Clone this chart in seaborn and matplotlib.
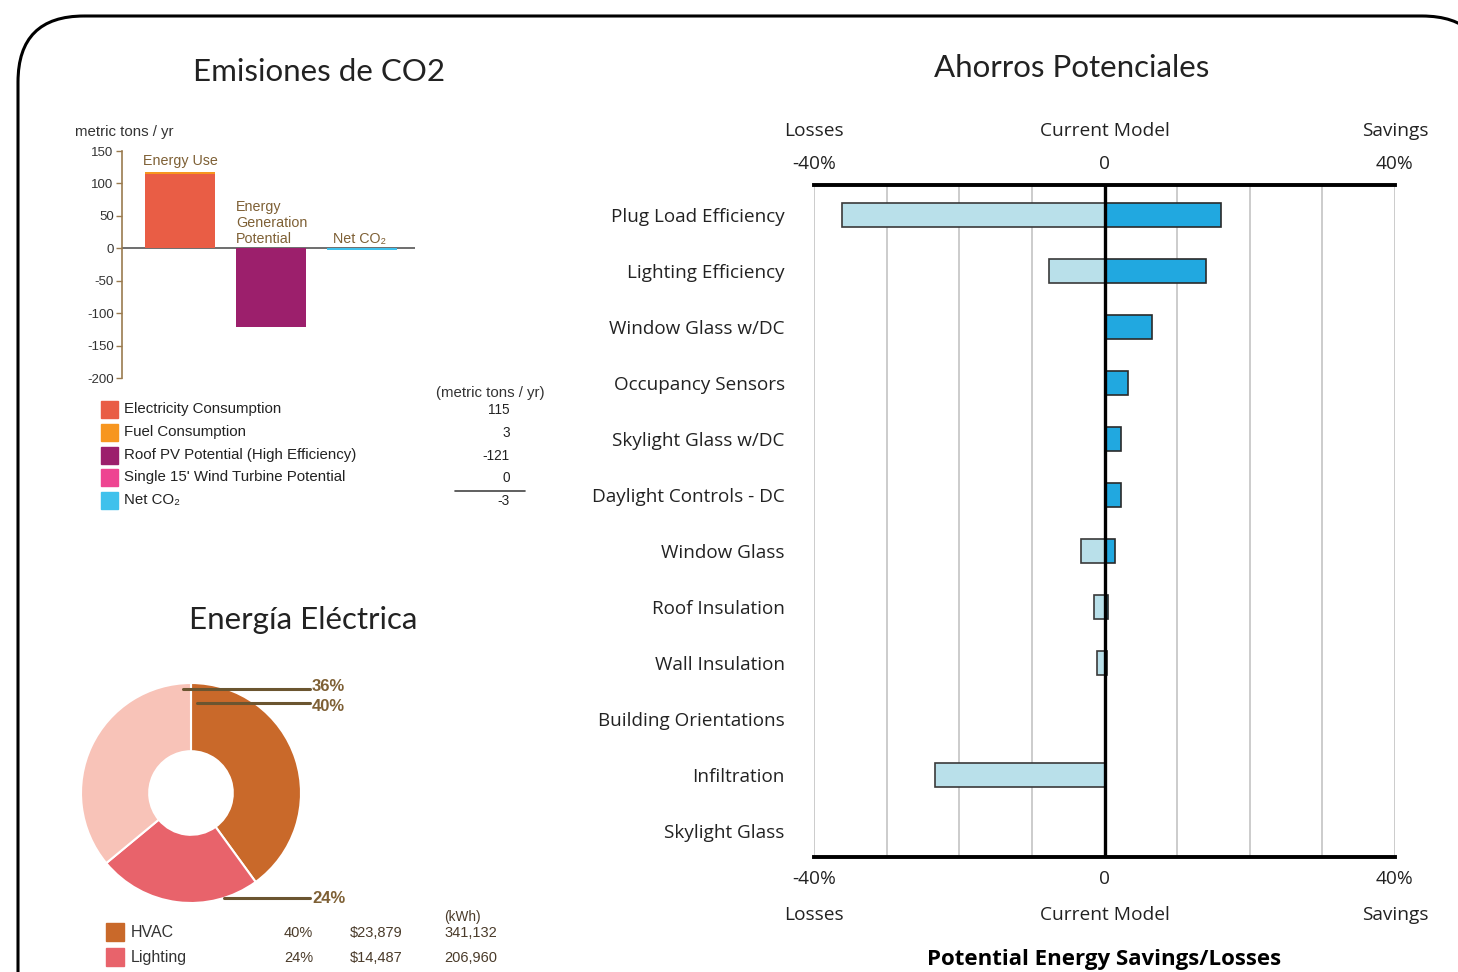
import matplotlib
matplotlib.use("Agg")
import matplotlib.pyplot as plt
from matplotlib.patches import FancyBboxPatch
import seaborn as sns

# ---- data -------------------------------------------------------------
# Ahorros Potenciales (percent of current model)
measures = [
    "Plug Load Efficiency", "Lighting Efficiency", "Window Glass w/DC",
    "Occupancy Sensors", "Skylight Glass w/DC", "Daylight Controls - DC",
    "Window Glass", "Roof Insulation", "Wall Insulation",
    "Building Orientations", "Infiltration", "Skylight Glass",
]
losses = [-36.2, -7.7, 0, 0, 0, 0, -3.2, -1.4, -1.0, 0, -23.3, 0]
savings = [16.0, 14.0, 6.6, 3.2, 2.3, 2.3, 1.4, 0.5, 0.3, 0, 0, 0]

# Emisiones de CO2 (metric tons / yr)
co2_groups = ["Energy Use", "Energy Generation Potential", "Net CO₂"]
co2_items = ["Electricity Consumption", "Fuel Consumption",
             "Roof PV Potential (High Efficiency)",
             "Single 15' Wind Turbine Potential", "Net CO₂"]
co2_values = [115, 3, -121, 0, -3]
co2_colors = ["#E95D45", "#F7961F", "#9C1F6C", "#EE4591", "#3FC1EC"]

# Energía Eléctrica
elec_uses = ["HVAC", "Lighting", ""]
elec_share = [40, 24, 36]
elec_cost = ["$23,879", "$14,487"]
elec_kwh = ["341,132", "206,960"]
elec_colors = ["#C9692A", "#E8636B", "#F8C3B8"]

W, H = 1458, 972
BROWN = "#7E6035"
TITLE_FONT = dict(family=["Lato", "DejaVu Sans"], color="#222222")
UI_FONT = ["Open Sans", "DejaVu Sans"]

sns.set_theme(style="white")
plt.rcParams["font.family"] = ["Liberation Sans", "DejaVu Sans"]
plt.rcParams["axes.unicode_minus"] = False

fig = plt.figure(figsize=(W / 100, H / 100), dpi=100)


def box(l, t, r, b):
    return fig.add_axes([l / W, 1 - b / H, (r - l) / W, (b - t) / H])


def pixel_axes():
    a = box(0, 0, W, H)
    a.set_xlim(0, W)
    a.set_ylim(H, 0)
    a.axis("off")
    return a


# overlay in pixel coordinates for frame and free text
bg = pixel_axes()
bg.add_patch(FancyBboxPatch((18, 16), 1470, 1300,
                            boxstyle="round,pad=0,rounding_size=66",
                            fill=False, edgecolor="black", linewidth=2.2))

bg.text(319, 72, "Emisiones de CO2", ha="center", va="center", fontsize=22.5, **TITLE_FONT)
bg.text(1072, 68, "Ahorros Potenciales", ha="center", va="center", fontsize=22.5, **TITLE_FONT)
bg.text(303, 620, "Energía Eléctrica", ha="center", va="center", fontsize=22.5, **TITLE_FONT)

# ---- savings / losses chart ------------------------------------------
ax = box(814, 185, 1395, 857)
sns.barplot(x=losses, y=measures, orient="h", color="#B9E0EA", saturation=1,
            edgecolor="#3a3a3a", linewidth=1.2, width=0.43, ax=ax, zorder=2)
sns.barplot(x=savings, y=measures, orient="h", color="#21A8E0", saturation=1,
            edgecolor="#2a2a2a", linewidth=1.2, width=0.43, ax=ax, zorder=2)
ax.set_xlim(-40, 40)
ax.set_ylim(11.47, -0.54)
ax.set_xlabel("")
ax.set_ylabel("")
ax.set_xticks(range(-40, 41, 10))
ax.set_xticklabels(["-40%", "", "", "", "0", "", "", "", "40%"])
ax.tick_params(axis="x", length=0, pad=9, top=True, labeltop=True,
               labelsize=13.8, labelcolor="#222222")
ax.tick_params(axis="y", length=0, pad=21, labelsize=13.6, labelcolor="#222222")
for lab in ax.get_xticklabels() + ax.get_yticklabels():
    lab.set_family(UI_FONT)
ax.grid(axis="x", color="#c8c8c8", linewidth=1.3)
ax.set_axisbelow(True)
for side in ["left", "right"]:
    ax.spines[side].set_visible(False)
for side in ["top", "bottom"]:
    ax.spines[side].set_color("black")
    ax.spines[side].set_linewidth(2.8)
ax.axvline(0, color="black", linewidth=2.4, zorder=3)

for xv, txt in zip([-40, 0, 40], ["Losses", "Current Model", "Savings"]):
    ax.text(xv, 1.08, txt, transform=ax.get_xaxis_transform(), ha="center",
            va="center", fontsize=13.8, color="#222222", family=UI_FONT)
    ax.text(xv, -0.087, txt, transform=ax.get_xaxis_transform(), ha="center",
            va="center", fontsize=13.8, color="#222222", family=UI_FONT)
ax.text(0, -0.153, "Potential Energy Savings/Losses", transform=ax.get_xaxis_transform(),
        ha="center", va="center", fontsize=16, weight="bold", color="black",
        family=UI_FONT)

# ---- CO2 chart --------------------------------------------------------
cx = box(122, 151, 415, 378)
energy_use = co2_values[0] + co2_values[1]
sns.barplot(x=co2_groups, y=[energy_use, co2_values[2], co2_values[4]], order=co2_groups,
            palette=[co2_colors[1], co2_colors[2], co2_colors[4]], hue=co2_groups,
            legend=False, saturation=1, width=0.77, linewidth=0, ax=cx, zorder=2)
sns.barplot(x=co2_groups[:1], y=co2_values[:1], order=co2_groups, color=co2_colors[0],
            saturation=1, width=0.77, linewidth=0, ax=cx, zorder=2)
cx.set_ylim(-200, 150)
cx.set_xlim(-0.64, 2.58)
cx.set_yticks(range(-200, 151, 50))
cx.set_xticks([])
cx.set_xlabel("")
cx.set_ylabel("")
cx.set_facecolor("none")
for side in ["top", "right", "bottom"]:
    cx.spines[side].set_visible(False)
cx.spines["left"].set_color("#9A7B4F")
cx.spines["left"].set_linewidth(1.2)
cx.tick_params(axis="y", left=True, length=4, width=1, color="#9A7B4F",
               labelsize=9.5, labelcolor="#333333", pad=2)
cx.axhline(0, color="#555555", linewidth=1.2, zorder=1)

cx.text(0, 124, "Energy Use", ha="center", va="bottom", fontsize=10.3, color=BROWN)
cx.text(0.615, 3, "Energy\nGeneration\nPotential", ha="left", va="bottom",
        fontsize=10.3, color=BROWN, linespacing=1.2)
cx.text(1.97, 3, "Net CO₂", ha="center", va="bottom", fontsize=10.3, color=BROWN)

bg.text(75, 132, "metric tons / yr", ha="left", va="center", fontsize=10.8,
        color="#333333")

# legend table
row_y = [409, 432, 455, 477, 500]
bg.text(490, 393, "(metric tons / yr)", ha="center", va="center", fontsize=10.8,
        color="#333333")
for y, name, val, col in zip(row_y, co2_items, co2_values, co2_colors):
    bg.add_patch(plt.Rectangle((101, y - 8.5), 17, 17, color=col))
    bg.text(124, y, name, ha="left", va="center", fontsize=10.8, color="#222222")
    bg.text(510, y + 1, f"{val}", ha="right", va="center", fontsize=9.8, color="#222222")
bg.plot([455, 525], [491, 491], color="#444444", linewidth=1.2)

# ---- Energia electrica donut -----------------------------------------
px = box(81, 683, 301, 903)
px.pie(elec_share, colors=elec_colors, startangle=90, counterclock=False,
       wedgeprops=dict(width=0.62, edgecolor="white", linewidth=1.5))
px.set_xlim(-1, 1)
px.set_ylim(-1, 1)

top = pixel_axes()
for (x0, y, dy, pct) in [(183, 689, -3, elec_share[2]), (197, 703, 3, elec_share[0]),
                         (224, 898, 0, elec_share[1])]:
    top.plot([x0, 310], [y, y], color="#6B5530", linewidth=2.2)
    top.text(312, y + dy, f"{pct}%", ha="left", va="center",
             fontsize=12, weight="bold", color=BROWN)

bg.text(444, 917, "(kWh)", ha="left", va="center", fontsize=9.8, color="#4a3b2a")
for y, name, pct, cost, kwh, col in zip([932, 957], elec_uses, elec_share,
                                         elec_cost, elec_kwh, elec_colors):
    bg.add_patch(plt.Rectangle((106, y - 9), 18, 18, color=col))
    bg.text(131, y, name, ha="left", va="center", fontsize=11.5, color="#333333")
    bg.text(284, y + 1, f"{pct}%", ha="left", va="center", fontsize=10.5, color="#4a3b2a")
    bg.text(350, y + 1, cost, ha="left", va="center", fontsize=10.5, color="#4a3b2a")
    bg.text(444, y + 1, kwh, ha="left", va="center", fontsize=10.5, color="#4a3b2a")

fig.savefig("out.png", dpi=100, facecolor="white")
